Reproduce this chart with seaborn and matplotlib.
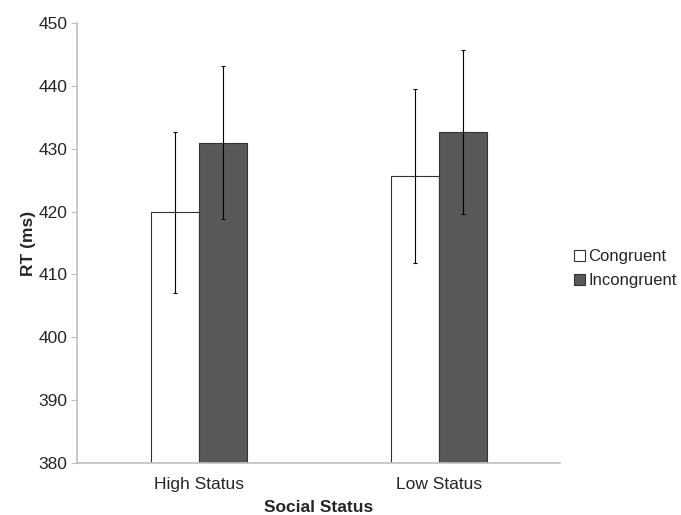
import matplotlib
matplotlib.use("Agg")
import matplotlib.pyplot as plt
import seaborn as sns
import pandas as pd
from matplotlib.patches import Patch

# data
statuses = ["High Status", "Low Status"]
conditions = ["Congruent", "Incongruent"]
congruent_rt = [419.9, 425.65]
incongruent_rt = [431.0, 432.65]
congruent_err = [12.8, 13.85]
incongruent_err = [12.15, 13.05]

df = pd.DataFrame({
    "status": statuses * 2,
    "condition": [conditions[0]] * 2 + [conditions[1]] * 2,
    "rt": congruent_rt + incongruent_rt,
    "err": congruent_err + incongruent_err,
})

sns.set_style("white")
plt.rcParams["font.family"] = ["Liberation Sans", "DejaVu Sans"]

fig = plt.figure(figsize=(6.81, 5.15), dpi=100)
ax = fig.add_axes([0.1135, 0.1016, 0.7088, 0.8532])

colors = {"Congruent": "#ffffff", "Incongruent": "#595959"}
sns.barplot(data=df, x="status", y="rt", hue="condition", order=statuses,
            hue_order=conditions, palette=colors, width=0.4, errorbar=None,
            edgecolor="#333333", linewidth=0.8, legend=False, ax=ax)

# error bars at the centre of each bar
for bar_group, cond in zip(ax.containers, conditions):
    sub = df[df["condition"] == cond].set_index("status").loc[statuses]
    xs = [p.get_x() + p.get_width() / 2 for p in bar_group]
    ax.errorbar(xs, sub["rt"], yerr=sub["err"], fmt="none", ecolor="black",
                elinewidth=0.8, capsize=1.5, capthick=0.8)

ax.set_ylim(380, 450)
ax.set_yticks(range(380, 451, 10))
ax.set_xlim(-0.505, 1.505)
ax.set_xlabel("Social Status", fontsize=12.5, fontweight="bold", labelpad=6)
ax.set_ylabel("RT (ms)", fontsize=12.5, fontweight="bold", labelpad=2)
ax.tick_params(axis="y", direction="out", length=4, width=0.8, color="#bfbfbf",
               labelsize=12.5, pad=3, left=True)
ax.tick_params(axis="x", length=0, labelsize=12.5, pad=10)

for side in ["top", "right"]:
    ax.spines[side].set_visible(False)
for side in ["left", "bottom"]:
    ax.spines[side].set_color("#bfbfbf")
    ax.spines[side].set_linewidth(1.2)

handles = [Patch(facecolor=colors[c], edgecolor="#333333", linewidth=0.8, label=c)
           for c in conditions]
fig.legend(handles=handles, loc="center left", bbox_to_anchor=(0.821, 0.478),
           frameon=False, fontsize=12, handlelength=0.65, handleheight=0.65,
           handletextpad=0.2, labelspacing=0.55)

fig.savefig("out.png", dpi=100, facecolor="white")
